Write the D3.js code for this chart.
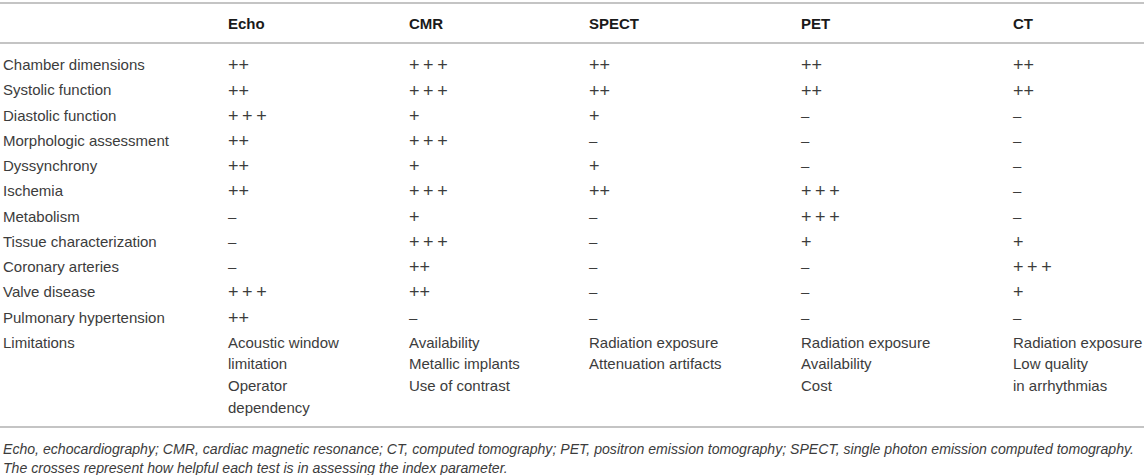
<!DOCTYPE html>
<html>
<head>
<meta charset="utf-8">
<script src="https://cdn.jsdelivr.net/npm/d3@7.9.0/dist/d3.min.js"></script>
<style>
  body { margin: 0; background: #fff; }
  svg { display: block; font-family: "Liberation Sans", Arial, sans-serif; }
</style>
</head>
<body>
<svg id="tbl" width="1144" height="475"></svg>
<script>
// imaging modalities (columns)
const modalities = ['Echo', 'CMR', 'SPECT', 'PET', 'CT'];

// parameters (rows)
const parameters = [
  'Chamber dimensions', 'Systolic function', 'Diastolic function',
  'Morphologic assessment', 'Dyssynchrony', 'Ischemia', 'Metabolism',
  'Tissue characterization', 'Coronary arteries', 'Valve disease',
  'Pulmonary hypertension'
];

// number of crosses per modality, row order as above (0 = –)
const echoScores  = [2, 2, 3, 2, 2, 2, 0, 0, 0, 3, 2];
const cmrScores   = [3, 3, 1, 3, 1, 3, 1, 3, 2, 2, 0];
const spectScores = [2, 2, 1, 0, 1, 2, 0, 0, 0, 0, 0];
const petScores   = [2, 2, 0, 0, 0, 3, 3, 1, 0, 0, 0];
const ctScores    = [2, 2, 0, 0, 0, 0, 0, 1, 3, 1, 0];

const limitations = [
  ['Acoustic window', 'limitation', 'Operator', 'dependency'],
  ['Availability', 'Metallic implants', 'Use of contrast'],
  ['Radiation exposure', 'Attenuation artifacts'],
  ['Radiation exposure', 'Availability', 'Cost'],
  ['Radiation exposure', 'Low quality', 'in arrhythmias']
];

const footnotes = [
  'Echo, echocardiography; CMR, cardiac magnetic resonance; CT, computed tomography; PET, positron emission tomography; SPECT, single photon emission computed tomography.',
  'The crosses represent how helpful each test is in assessing the index parameter.'
];

const scores = [echoScores, cmrScores, spectScores, petScores, ctScores];
const symbol = n => n === 0 ? '\u2013' : (n === 3 ? '+\u2009+\u2009+' : '+'.repeat(n));

const svg = d3.select('#tbl');
const W = 1144;

// column positions
const x = d3.scaleOrdinal()
  .domain(['label'].concat(modalities))
  .range([3, 228, 409, 589, 801, 1013]);

// row positions (parameters + limitations row)
const y = d3.scaleLinear().domain([0, parameters.length]).range([65, 342.5]);
const lineStep = 21.7;

const textCol = '#3c3c3c';
const ruleCol = '#c4c4c4';

// rules
const rules = [3, 43, 427];
svg.selectAll('line.rule')
  .data(rules)
  .join('line')
  .attr('class', 'rule')
  .attr('x1', 0).attr('x2', W)
  .attr('y1', d => d).attr('y2', d => d)
  .attr('stroke', ruleCol)
  .attr('stroke-width', 2);

// header
svg.selectAll('text.head')
  .data(modalities)
  .join('text')
  .attr('class', 'head')
  .attr('x', d => x(d))
  .attr('y', 24)
  .attr('dy', '0.35em')
  .attr('font-size', 15)
  .attr('font-weight', 'bold')
  .attr('fill', '#1a1a1a')
  .text(d => d);

// row labels
svg.selectAll('text.rowlab')
  .data(parameters.concat(['Limitations']))
  .join('text')
  .attr('class', 'rowlab')
  .attr('x', x('label'))
  .attr('y', (d, i) => y(i))
  .attr('dy', '0.35em')
  .attr('font-size', 15)
  .attr('fill', textCol)
  .text(d => d);

// score cells
const cells = [];
modalities.forEach((m, j) => {
  scores[j].forEach((s, i) => cells.push({ m, i, s }));
});

svg.selectAll('text.cell')
  .data(cells)
  .join('text')
  .attr('class', 'cell')
  .attr('x', d => x(d.m))
  .attr('y', d => y(d.i))
  .attr('dy', '0.35em')
  .attr('font-size', d => d.s === 0 ? 15 : 18)
  .attr('fill', textCol)
  .text(d => symbol(d.s));

// limitations row
const limCells = [];
modalities.forEach((m, j) => {
  limitations[j].forEach((t, k) => limCells.push({ m, k, t }));
});

svg.selectAll('text.lim')
  .data(limCells)
  .join('text')
  .attr('class', 'lim')
  .attr('x', d => x(d.m))
  .attr('y', d => y(parameters.length) + d.k * lineStep)
  .attr('dy', '0.35em')
  .attr('font-size', 15)
  .attr('fill', textCol)
  .text(d => d.t);

// footnote
svg.selectAll('text.foot')
  .data(footnotes)
  .join('text')
  .attr('class', 'foot')
  .attr('x', 3)
  .attr('y', (d, i) => 449 + i * 19)
  .attr('dy', '0.35em')
  .attr('font-size', 14.1)
  .attr('font-style', 'italic')
  .attr('fill', textCol)
  .text(d => d);
</script>
</body>
</html>
